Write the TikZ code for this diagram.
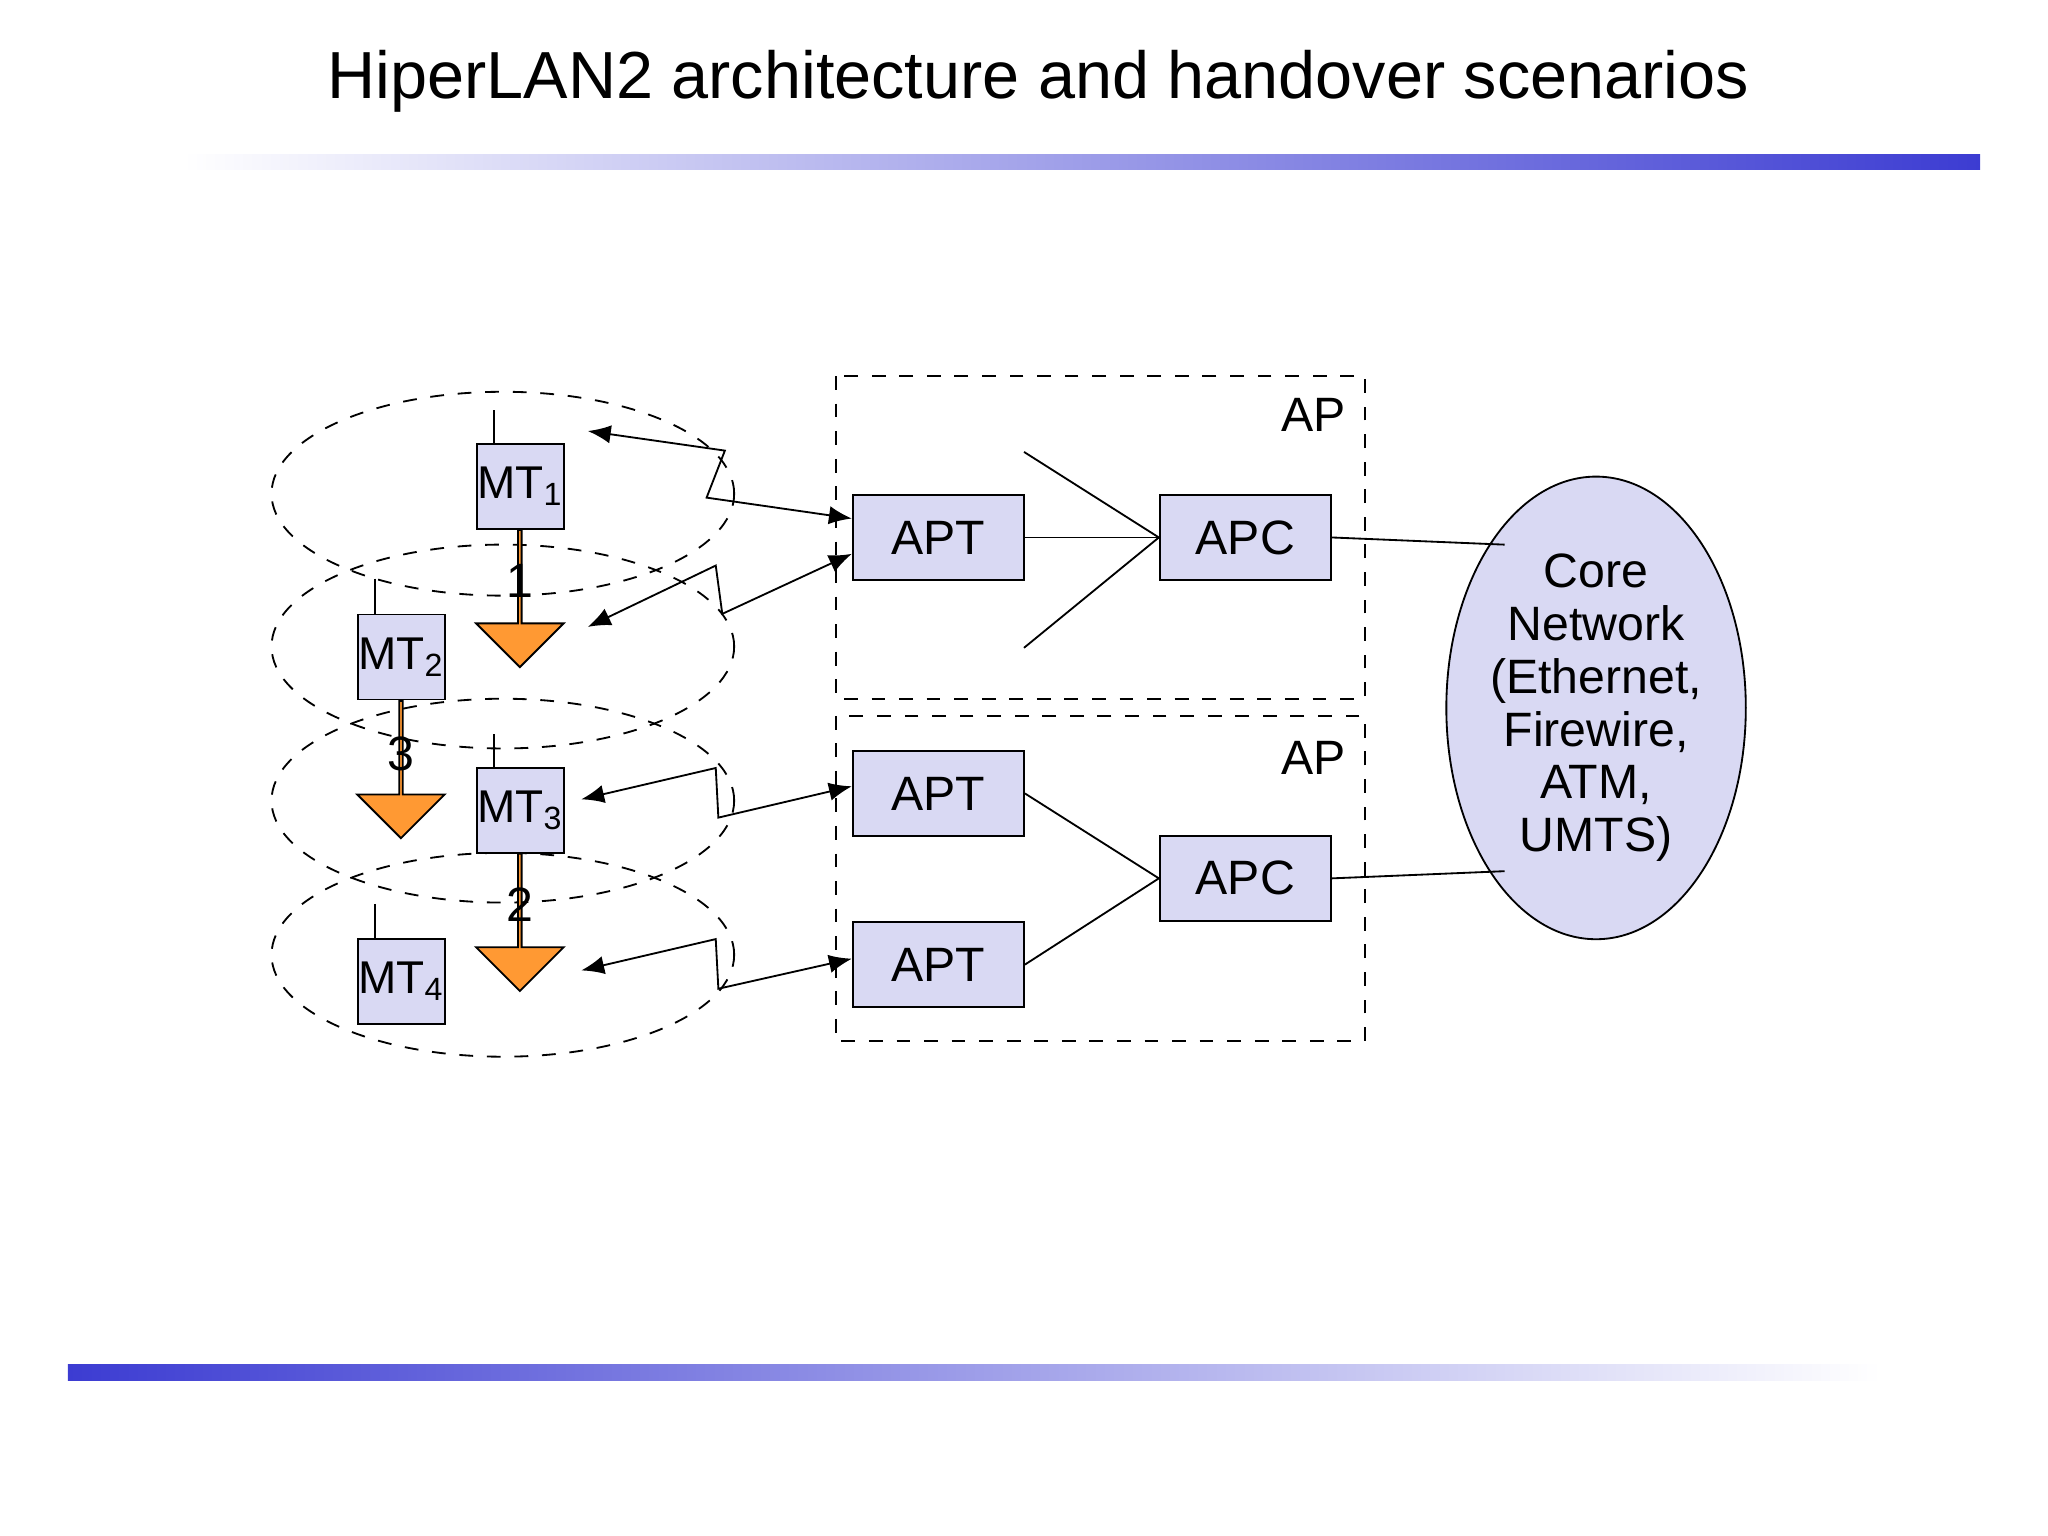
\documentclass[tikz,border=0pt]{standalone}
\usepackage{fontspec}
\setmainfont{Liberation Sans}
\usetikzlibrary{shapes.geometric,arrows.meta,shapes.arrows}
\definecolor{boxc}{RGB}{217,217,243}
\definecolor{barc}{RGB}{60,60,210}
\definecolor{orng}{RGB}{255,153,51}
\tikzset{
 box/.style={draw,fill=boxc,minimum width=1.31cm,minimum height=0.65cm,inner sep=0pt,font=\fontsize{10.5pt}{12pt}\selectfont},
 mt/.style={draw,fill=boxc,minimum width=0.65cm,minimum height=0.65cm,inner sep=0pt,font=\fontsize{10pt}{12pt}\selectfont},
 cell/.style={draw,dashed,ellipse,minimum width=3.54cm,minimum height=1.56cm},
 apbox/.style={draw,dashed},
 harrow/.style={draw=black,fill=orng,single arrow,shape border rotate=270,minimum width=0.67cm,single arrow head extend=0.165cm,minimum height=1.05cm,inner sep=0pt,anchor=tail},
 link/.style={{Latex[length=5pt,width=4pt]}-{Latex[length=5pt,width=4pt]}},
 lbl/.style={font=\fontsize{10.5pt}{12pt}\selectfont}
}
\begin{document}
\begin{tikzpicture}[x=0.01cm,y=-0.01cm]
\useasboundingbox (0,0) rectangle (1568,1176);
\node[font=\fontsize{14.5pt}{17pt}\selectfont] (title) at (795,62) {HiperLAN2 architecture and handover scenarios};
\shade[left color=white,right color=barc] (140,118) rectangle (1516,130);
\shade[left color=barc,right color=white] (52,1045) rectangle (1440,1057);
% cells
\foreach \y/\n in {378/c1,495/c2,613/c3,731/c4} \node[cell] (\n) at (385,\y) {};
% orange arrows
\node[harrow] (h1) at (398,405) {};
\node[harrow] (h3) at (307,536) {};
\node[harrow] (h2) at (398,653) {};
\node[lbl] (l1) at (398,445) {1};
\node[lbl] (l3) at (307,577) {3};
\node[lbl] (l2) at (398,693) {2};
% MTs
\node[mt] (mt1) at (398.5,372.5) {MT\textsubscript{1}};
\node[mt] (mt2) at (307.5,503) {MT\textsubscript{2}};
\node[mt] (mt3) at (398.5,620.5) {MT\textsubscript{3}};
\node[mt] (mt4) at (307.5,751.5) {MT\textsubscript{4}};
\coordinate (a1) at (378,314); \draw (a1) -- (378,340);
\coordinate (a2) at (287,443); \draw (a2) -- (287,470);
\coordinate (a3) at (378,562); \draw (a3) -- (378,588);
\coordinate (a4) at (287,692); \draw (a4) -- (287,719);
% AP boxes
\draw[apbox] (640,288) rectangle (1045,535);
\draw[apbox] (640,548) rectangle (1045,797);
\node[lbl] (ap1) at (1006,318) {AP};
\node[lbl] (ap2) at (1006,580) {AP};
\node[box] (apt1) at (718.5,411.5) {APT};
\node[box] (apc1) at (953.5,411.5) {APC};
\node[box] (apt2) at (718.5,607.5) {APT};
\node[box] (apt3) at (718.5,738.5) {APT};
\node[box] (apc2) at (953.5,672.5) {APC};
\draw (apt1.east) -- (apc1.west);
\coordinate (f1) at (784,346); \coordinate (f2) at (784,496);
\draw (f1) -- (apc1.west) -- (f2);
\draw (apt2.east) -- (apc2.west) -- (apt3.east);
% core
\node[draw,fill=boxc,ellipse,minimum width=1.96cm,minimum height=3.54cm,align=center,inner sep=0pt,font=\fontsize{10.5pt}{11.5pt}\selectfont] (core) at (1222,542) {Core\\Network\\(Ethernet,\\Firewire,\\ATM,\\UMTS)};
\draw (apc1.east) -- (1152,417);
\draw (apc2.east) -- (1152,667);
% radio links
\coordinate (r1) at (450,330); \coordinate (r2) at (450,480);
\coordinate (r3) at (445,612); \coordinate (r4) at (445,743);
\draw[link] (r1) -- (555,345) -- (541,381) -- (apt1.west|-0,397);
\draw[link] (r2) -- (548,433) -- (553,470) -- (apt1.west|-0,424);
\draw[link] (r3) -- (548,588) -- (550,626) -- (apt2.west|-0,602);
\draw[link] (r4) -- (548,719) -- (550,757) -- (apt3.west|-0,734);
\end{tikzpicture}
\end{document}
